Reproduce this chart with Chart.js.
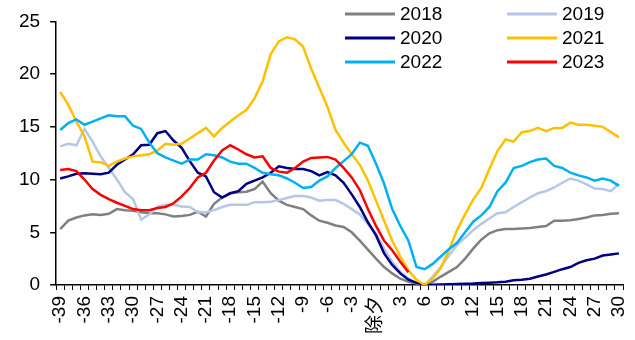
<!DOCTYPE html>
<html>
<head>
<meta charset="utf-8">
<script src="https://cdn.jsdelivr.net/npm/chart.js@4.4.0/dist/chart.umd.min.js"></script>
<style>
  html, body { margin: 0; padding: 0; background: #fff; }
  #wrap { width: 635px; height: 340px; }
</style>
</head>
<body>
<div id="wrap"><canvas id="myChart" width="635" height="340"></canvas></div>
<script>
// 横轴：距除夕天数
const days = ['-39','-38','-37','-36','-35','-34','-33','-32','-31','-30',
  '-29','-28','-27','-26','-25','-24','-23','-22','-21','-20',
  '-19','-18','-17','-16','-15','-14','-13','-12','-11','-10',
  '-9','-8','-7','-6','-5','-4','-3','-2','-1','除夕',
  '1','2','3','4','5','6','7','8','9','10',
  '11','12','13','14','15','16','17','18','19','20',
  '21','22','23','24','25','26','27','28','29','30'];

// 各年份数据
const y2018 = [5.3,6.1,6.4,6.6,6.7,6.65,6.75,7.2,7.1,7.05,
  6.9,6.8,6.8,6.7,6.5,6.55,6.65,6.95,6.5,7.7,
  8.3,8.7,8.8,8.85,9.1,9.8,8.7,8.0,7.6,7.4,
  7.2,6.6,6.1,5.9,5.65,5.5,5.0,4.2,3.35,2.5,
  1.7,1.1,0.6,0.3,0.15,0,0.3,0.8,1.25,1.7,
  2.5,3.45,4.3,4.9,5.2,5.3,5.3,5.35,5.4,5.5,
  5.6,6.1,6.1,6.15,6.25,6.4,6.6,6.65,6.75,6.8];
const y2019 = [13.15,13.4,13.25,14.8,13.6,12.2,11.1,10.0,8.8,8.15,
  6.2,6.7,7.4,7.6,7.6,7.45,7.4,6.9,6.9,7.1,
  7.4,7.6,7.6,7.6,7.85,7.85,7.9,8.05,8.25,8.45,
  8.45,8.3,8.0,8.05,8.05,7.7,7.2,6.7,5.8,4.9,
  3.45,2.2,1.25,0.6,0.2,0,0.8,1.7,2.8,3.8,
  4.5,5.2,5.8,6.3,6.8,6.9,7.4,7.85,8.3,8.7,
  8.9,9.25,9.7,10.1,9.9,9.55,9.15,9.1,8.9,9.6];
const y2020 = [10.1,10.3,10.55,10.6,10.55,10.5,10.65,11.4,11.9,12.4,
  13.25,13.3,14.4,14.6,13.7,13.0,11.75,10.65,10.3,8.8,
  8.3,8.7,8.9,9.6,9.9,10.2,10.65,11.25,11.1,11.0,
  11.0,10.8,10.4,10.7,10.4,9.7,8.6,7.4,5.95,4.7,
  3.0,1.9,1.1,0.5,0.2,0,0.02,0.05,0.08,0.1,
  0.12,0.15,0.2,0.22,0.25,0.3,0.45,0.5,0.6,0.8,
  1.0,1.25,1.5,1.7,2.1,2.35,2.5,2.8,2.9,3.0];
const y2021 = [18.3,17.1,15.5,14.1,11.7,11.65,11.3,11.7,12.0,12.2,
  12.3,12.4,12.75,13.4,13.3,13.4,13.9,14.4,14.9,14.1,
  14.9,15.5,16.1,16.6,17.7,19.3,21.9,23.1,23.5,23.3,
  22.6,20.5,18.7,16.9,14.7,13.5,12.4,11.4,9.9,8.0,
  6.1,4.2,2.7,1.4,0.5,0,0.6,1.6,3.3,5.2,
  6.7,8.1,9.2,11.0,12.7,13.8,13.6,14.5,14.6,14.9,
  14.6,14.9,14.9,15.4,15.2,15.2,15.1,15.0,14.5,14.0];
const y2022 = [14.7,15.35,15.7,15.2,15.5,15.8,16.1,16.0,16.0,15.1,
  14.8,13.5,12.5,12.1,11.8,11.5,11.9,11.9,12.4,12.3,
  12.1,11.7,11.5,11.5,11.1,10.65,10.5,10.4,10.1,9.7,
  9.2,9.3,9.9,10.3,11.1,11.75,12.4,13.5,13.2,11.5,
  9.6,7.2,5.6,4.2,1.7,1.5,2.0,2.7,3.4,4.0,
  5.0,6.0,6.6,7.4,8.9,9.7,11.1,11.3,11.65,11.9,
  12.0,11.3,11.1,10.65,10.4,10.2,9.9,10.1,9.9,9.4];
const y2023 = [10.9,11.0,10.8,10.0,9.1,8.55,8.15,7.8,7.5,7.2,
  7.1,7.1,7.3,7.4,7.75,8.4,9.2,10.2,10.65,11.8,
  12.75,13.25,12.85,12.4,12.1,12.2,11.1,10.75,10.65,11.1,
  11.7,12.05,12.1,12.15,11.9,11.1,10.2,9.0,7.2,5.6,
  4.2,3.3,2.2,1.2];

const years = ['2018', '2019', '2020', '2021', '2022', '2023'];
const series = [y2018, y2019, y2020, y2021, y2022, y2023];
const colors = ['#808080', '#B4C7E7', '#000080', '#FFC000', '#00B0F0', '#FF0000'];

// 图例：两列三行，画在右上角
const twoColLegend = {
  id: 'twoColLegend',
  afterDraw(chart) {
    const ctx = chart.ctx;
    ctx.save();
    ctx.font = '19px "Liberation Sans", Arial, sans-serif';
    ctx.textBaseline = 'middle';
    ctx.textAlign = 'left';
    chart.data.datasets.forEach((ds, i) => {
      const x = (i % 2 === 0) ? 345 : 507;
      const y = 14 + Math.floor(i / 2) * 24;
      ctx.strokeStyle = ds.borderColor;
      ctx.lineWidth = 3;
      ctx.beginPath();
      ctx.moveTo(x, y);
      ctx.lineTo(x + 50, y);
      ctx.stroke();
      ctx.fillStyle = '#000';
      ctx.fillText(ds.label, x + 55, y + 1);
    });
    ctx.restore();
  }
};

Chart.defaults.font.family = '"Liberation Sans", Arial, "Noto Sans CJK SC", sans-serif';
Chart.defaults.font.size = 19;
Chart.defaults.color = '#000';

const ctx = document.getElementById('myChart').getContext('2d');
const myChart = new Chart(ctx, {
  type: 'line',
  data: {
    labels: days,
    datasets: years.map((yr, i) => ({
      label: yr,
      data: series[i],
      borderColor: colors[i],
      backgroundColor: colors[i],
      borderWidth: 2.5,
      pointRadius: 0,
      tension: 0,
      fill: false,
      order: years.length - i // 后面的年份画在上层
    }))
  },
  options: {
    responsive: false,
    animation: false,
    layout: { padding: { left: 9, right: 12, top: 19, bottom: 0 } },
    plugins: {
      legend: { display: false },
      tooltip: { enabled: false }
    },
    scales: {
      x: {
        offset: true,
        afterFit: (scale) => { scale.paddingRight = 0; }, // 不为最后一个竖排标签额外留白
        grid: { offset: true, drawOnChartArea: false, tickLength: 5, color: '#000', lineWidth: 1 },
        border: { color: '#000', width: 1.5 },
        ticks: {
          autoSkip: false,
          maxRotation: 90,
          minRotation: 90,
          padding: 6,
          callback: function(val, idx) {
            return idx % 3 === 0 ? this.getLabelForValue(val) : '';
          }
        }
      },
      y: {
        min: 0,
        max: 25,
        ticks: { stepSize: 5, padding: 10 },
        grid: { drawOnChartArea: false, tickLength: 6, color: '#000', lineWidth: 1.5 },
        border: { color: '#000', width: 1.5 }
      }
    }
  },
  plugins: [twoColLegend]
});
</script>
</body>
</html>
